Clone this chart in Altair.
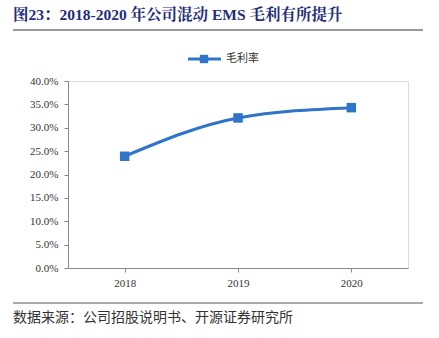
import altair as alt
import pandas as pd

years = ["2018", "2019", "2020"]
margin = [0.239, 0.321, 0.343]
series_name = "毛利率"
title_text = "图23：2018-2020 年公司混动 EMS 毛利有所提升"
source_text = "数据来源：公司招股说明书、开源证券研究所"

df = pd.DataFrame({"year": years, "value": margin})

W, H = 340, 187
LINE_COLOR = "#2E74C8"
SERIF = "Liberation Serif, Noto Sans CJK SC"

x_enc = alt.X("year:N", sort=years,
              scale=alt.Scale(paddingInner=0, paddingOuter=0),
              axis=alt.Axis(title=None, labelAngle=0, bandPosition=0, labelPadding=5,
                            ticks=True, tickSize=4, domainColor="#888888", tickColor="#888888",
                            labelFont=SERIF, labelFontSize=11, labelColor="#333333"))
y_enc = alt.Y("value:Q",
              scale=alt.Scale(domain=[0, 0.4], nice=False),
              axis=alt.Axis(title=None, format=".1%", values=[i * 0.05 for i in range(9)],
                            grid=False, tickSize=4, domainColor="#888888", tickColor="#888888",
                            labelFont=SERIF, labelFontSize=11, labelColor="#333333",
                            labelPadding=6))

base = alt.Chart(df)
line = base.mark_line(color=LINE_COLOR, strokeWidth=3, interpolate="monotone").encode(x=x_enc, y=y_enc)
pts = base.mark_point(shape="square", filled=True, size=90, color=LINE_COLOR, opacity=1).encode(x=x_enc, y=y_enc)

one = pd.DataFrame({"t": [title_text]})
title = alt.Chart(one).mark_text(align="left", baseline="middle", fontSize=15.5, fontWeight="bold",
                                 font="Liberation Serif, Noto Serif CJK SC, Noto Sans CJK SC",
                                 color="#1F2D7B").encode(
    text="t:N", x=alt.value(-55), y=alt.value(-66))
title_rule = alt.Chart(one).mark_rule(color="#999999", strokeWidth=2).encode(
    x=alt.value(-55), x2=alt.value(355), y=alt.value(-51))

leg = pd.DataFrame({"t": [series_name]})
leg_rule = alt.Chart(leg).mark_rule(color=LINE_COLOR, strokeWidth=3).encode(
    x=alt.value(120), x2=alt.value(153), y=alt.value(-22))
leg_pt = alt.Chart(leg).mark_point(shape="square", filled=True, size=70, color=LINE_COLOR, opacity=1).encode(
    x=alt.value(136), y=alt.value(-22))
leg_txt = alt.Chart(leg).mark_text(align="left", baseline="middle", fontSize=11,
                                   font="Noto Sans CJK SC", color="#333333").encode(
    text="t:N", x=alt.value(158), y=alt.value(-22))

src = pd.DataFrame({"t": [source_text]})
src_rule = alt.Chart(src).mark_rule(color="#555555", strokeWidth=1).encode(
    x=alt.value(-55), x2=alt.value(355), y=alt.value(222))
src_txt = alt.Chart(src).mark_text(align="left", baseline="middle", fontSize=14,
                                   font="Noto Sans CJK SC", color="#333333").encode(
    text="t:N", x=alt.value(-55), y=alt.value(237))

chart = alt.layer(line, pts, title, title_rule, leg_rule, leg_pt, leg_txt, src_rule, src_txt).properties(
    width=W, height=H,
    autosize=alt.AutoSizeParams(type="none"),
    padding={"left": 68, "top": 81, "right": 31, "bottom": 70},
).configure_view(stroke=None).configure(background="white")

chart.save("out.html", embed_options={"renderer": "svg", "actions": False})
